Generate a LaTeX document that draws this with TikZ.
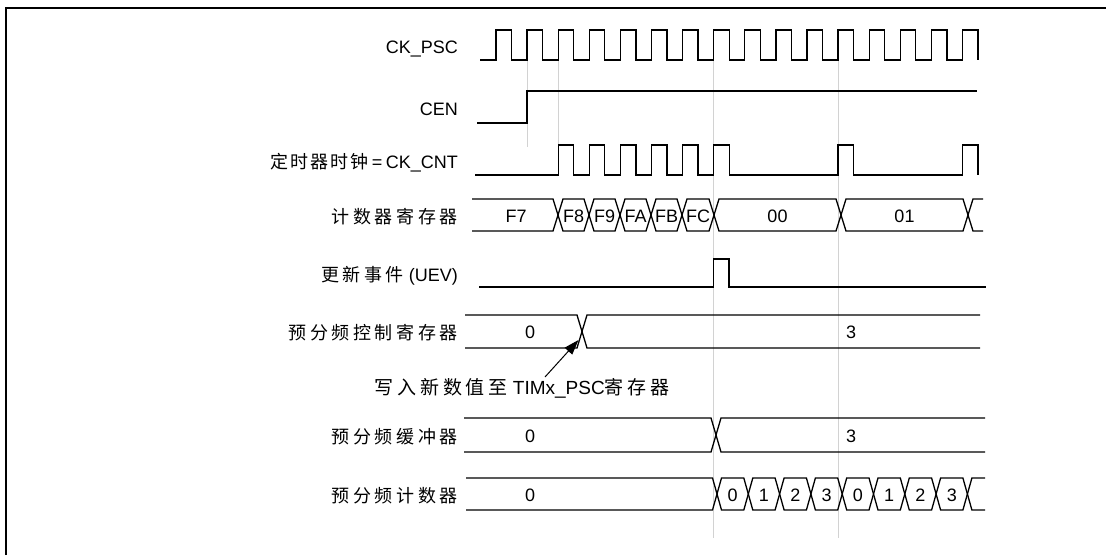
\documentclass[tikz,border=0pt]{standalone}
\usepackage{fontspec}
\setmainfont{Liberation Sans}
\newfontfamily\cjk[LetterSpace=20]{Noto Sans CJK SC}
\usetikzlibrary{arrows.meta}

\begin{document}
\begin{tikzpicture}[x=1pt, y=-1pt,
  sig/.style={line width=1.3pt},
  guide/.style={gray!35, line width=0.9pt},
  lbl/.style={anchor=base east, inner sep=0pt, font=\fontsize{18}{20}\selectfont},
  val/.style={anchor=base, inner sep=0pt, font=\fontsize{18}{20}\selectfont}]
\useasboundingbox (0,0) rectangle (1106,555);

% frame
\draw[line width=1.6pt] (6,555) -- (6,8) -- (1106,8);

% guide lines
\draw[guide] (527.1,60) -- (527.1,147);
\draw[guide] (558.2,60) -- (558.2,145);
\draw[guide] (713.7,60) -- (713.7,538);
\draw[guide] (838.1,60) -- (838.1,538);

% CK_PSC
\node[lbl] (ckpsc) at (458,53) {CK\_PSC};
\draw[sig] (480,60) \foreach \k in {0,...,15} { -- ({496+31.1*\k},60) -- ++(0,-30) -- ++(15.5,0) -- ++(0,30) };

% CEN
\node[lbl] (cen) at (458,115) {CEN};
\draw[sig] (477,123) -- (527.1,123) -- (527.1,91) -- (977,91);

% timer clock
\node[lbl] (ckcnt) at (458,168) {{\cjk\addfontfeatures{LetterSpace=12} 定时器时钟}\hspace{3pt}=\hspace{3.5pt}CK\_CNT};
\draw[sig] (475,175) \foreach \k in {2,3,4,5,6,7,11,15} { -- ({496+31.1*\k},175) -- ++(0,-30) -- ++(15.5,0) -- ++(0,30) };

% counter register
\node[lbl] (cnt) at (458,223) {\cjk 计数器寄存器};
\draw[sig] (472,199) -- (553,199) -- (558,215) -- (553,231) -- (472,231);
\node[val] (crF7) at (516,222) {F7};
\foreach \a/\b/\v in {558/589/F8, 589/620/F9, 620/651/FA, 651/682/FB, 682/714/FC, 714/841/00, 841/968/01} {
  \draw[sig] (\a,215) -- ({\a+5},199) -- ({\b-5},199) -- (\b,215) -- ({\b-5},231) -- ({\a+5},231) -- cycle;
  \node[val] (cr\v) at ({(\a+\b)/2},222) {\v};
}
\draw[sig] (983,199) -- (973,199) -- (968,215) -- (973,231) -- (983,231);

% update event
\node[lbl] (uev) at (458,281) {{\cjk 更新事件} (UEV)};
\draw[sig] (479,287) -- (713.7,287) -- (713.7,259) -- (729,259) -- (729,287) -- (986,287);

% prescaler control register
\node[lbl] (psc) at (458,339) {\cjk 预分频控制寄存器};
\draw[sig] (465,315) -- (577,315) -- (582,331.5) -- (577,348) -- (465,348);
\draw[sig] (980,315) -- (587,315) -- (582,331.5) -- (587,348) -- (980,348);
\node[val] (psc0) at (530,338) {0};
\node[val] (psc3) at (851,338) {3};

% write note
\node[val, font=\fontsize{19}{21}\selectfont] (note) at (522,394) {{\cjk 写入新数值至} TIMx\_PSC{\cjk 寄存器}};
\coordinate (wt) at (545,377);
\coordinate (wr) at (578.5,340);
\draw[-{Triangle[length=15pt,width=10pt]}, line width=1pt] (wt) -- (wr);

% prescaler buffer
\node[lbl] (buf) at (458,443) {\cjk 预分频缓冲器};
\draw[sig] (464,418) -- (711,418) -- (716,435) -- (711,452) -- (464,452);
\draw[sig] (985,418) -- (721,418) -- (716,435) -- (721,452) -- (985,452);
\node[val] (buf0) at (530,442) {0};
\node[val] (buf3) at (851,442) {3};

% prescaler counter
\node[lbl] (pcnt) at (458,502) {\cjk 预分频计数器};
\draw[sig] (466,478) -- (712.5,478) -- (717,494) -- (712.5,510) -- (466,510);
\node[val] (pcs) at (530,501) {0};
\foreach \i/\v in {0/0,1/1,2/2,3/3,4/0,5/1,6/2,7/3} {
  \draw[sig] ({717+31.3*\i},494) -- ++(4.5,-16) -- ++(22.3,0) -- ++(4.5,16) -- ++(-4.5,16) -- ++(-22.3,0) -- cycle;
  \node[val] (pc\i) at ({732.65+31.3*\i},501) {\v};
}
\draw[sig] (985,478) -- (971.9,478) -- (967.4,494) -- (971.9,510) -- (985,510);
\end{tikzpicture}
\end{document}
